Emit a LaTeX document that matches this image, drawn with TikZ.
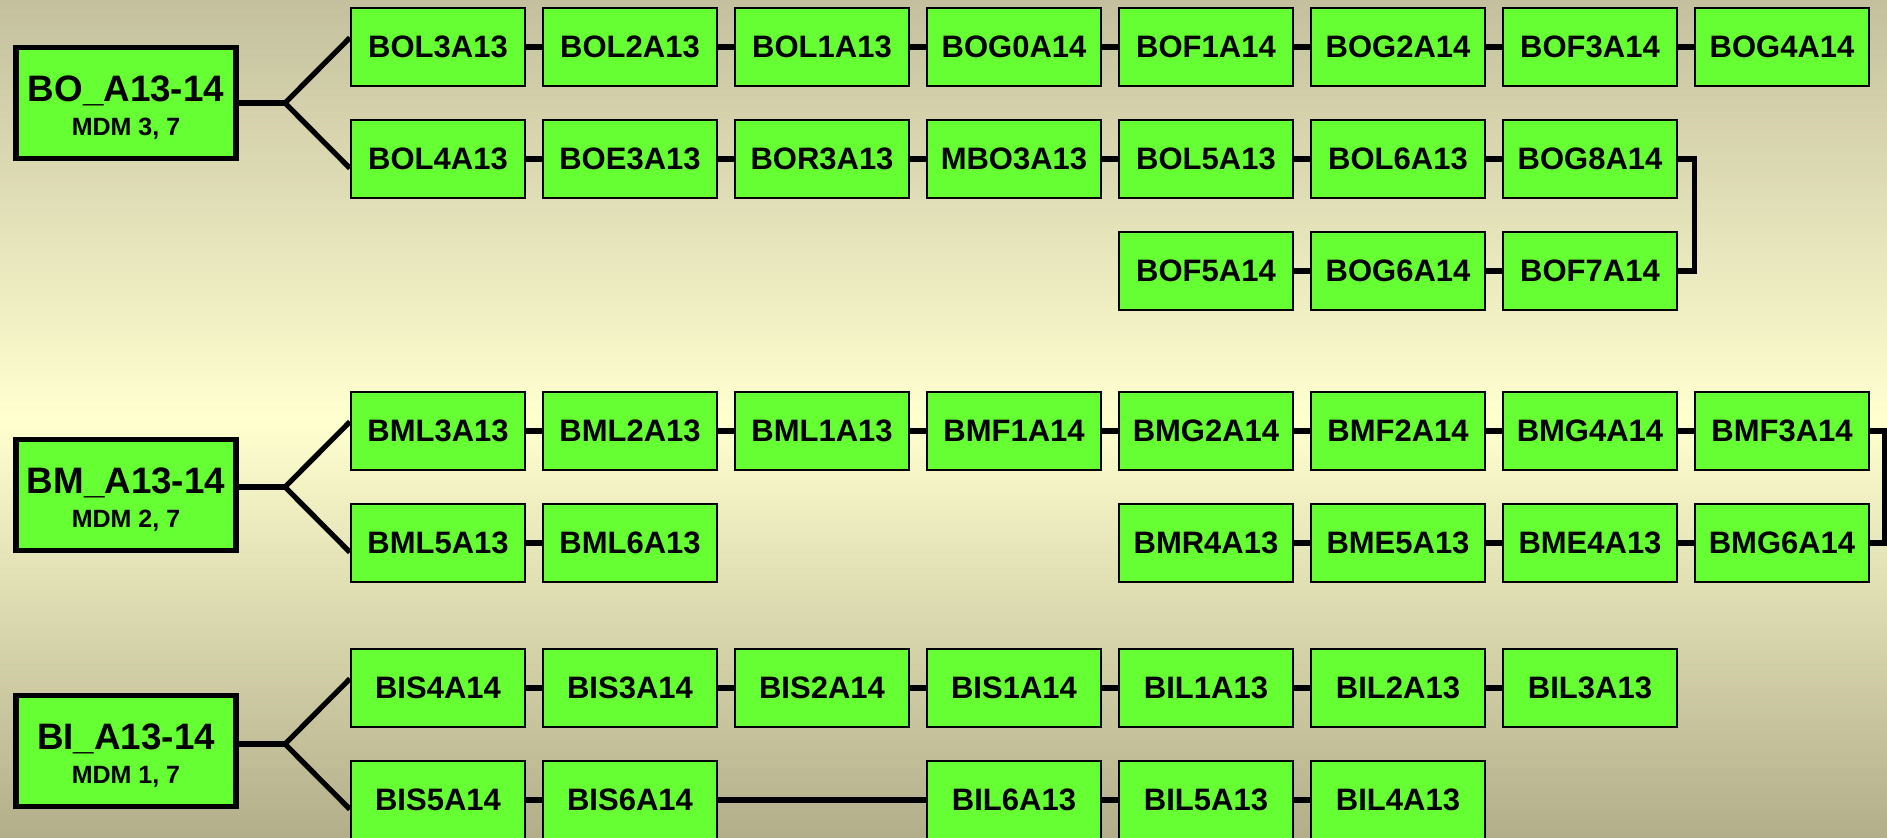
\documentclass[tikz,border=0pt]{standalone}
\usepackage{fontspec}
\setmainfont{Liberation Sans}
\usetikzlibrary{positioning}

\definecolor{boxgreen}{RGB}{102,255,51}
\definecolor{bgtop}{RGB}{196,192,158}
\definecolor{bgmid}{RGB}{255,255,208}
\definecolor{bgbot}{RGB}{178,174,138}

\newcommand{\grptext}[2]{\fontsize{18.4}{20}\selectfont\rule{0pt}{17.5pt}#1\\[5pt]\fontsize{12.5}{17}\selectfont #2}

\tikzset{
  stn/.style={draw, fill=boxgreen, line width=1.1pt, minimum width=87pt,
    minimum height=39pt, inner sep=0pt, font=\bfseries\fontsize{15.5}{18}\selectfont},
  grp/.style={draw, fill=boxgreen, line width=2.8pt, minimum width=110pt,
    minimum height=55.5pt, inner sep=0pt, align=center, font=\bfseries},
  link/.style={line width=2.6pt},
}

\begin{document}
\begin{tikzpicture}[x=0.5pt, y=-0.5pt, node distance=96pt]
   \shade[top color=bgtop, bottom color=bgbot, middle color=bgmid] (0,0) rectangle (1887,837);
   \useasboundingbox (0,0) rectangle (1887,837);

   % BO group
   \node[grp] (BO) at (126,103) {\grptext{BO\_A13-14}{MDM 3, 7}};
   \coordinate (bo) at (285,103);

   \node[stn] (BOL3A13) at (438,47) {BOL3A13};
   \node[stn] (BOL2A13) [right of=BOL3A13] {BOL2A13};
   \node[stn] (BOL1A13) [right of=BOL2A13] {BOL1A13};
   \node[stn] (BOG0A14) [right of=BOL1A13] {BOG0A14};
   \node[stn] (BOF1A14) [right of=BOG0A14] {BOF1A14};
   \node[stn] (BOG2A14) [right of=BOF1A14] {BOG2A14};
   \node[stn] (BOF3A14) [right of=BOG2A14] {BOF3A14};
   \node[stn] (BOG4A14) [right of=BOF3A14] {BOG4A14};

   \node[stn] (BOL4A13) at (438,159) {BOL4A13};
   \node[stn] (BOE3A13) [right of=BOL4A13] {BOE3A13};
   \node[stn] (BOR3A13) [right of=BOE3A13] {BOR3A13};
   \node[stn] (MBO3A13) [right of=BOR3A13] {MBO3A13};
   \node[stn] (BOL5A13) [right of=MBO3A13] {BOL5A13};
   \node[stn] (BOL6A13) [right of=BOL5A13] {BOL6A13};
   \node[stn] (BOG8A14) [right of=BOL6A13] {BOG8A14};

   \node[stn] (BOF5A14) at (1206,271) {BOF5A14};
   \node[stn] (BOG6A14) [right of=BOF5A14] {BOG6A14};
   \node[stn] (BOF7A14) [right of=BOG6A14] {BOF7A14};

   \draw[link] (BO.east) -- (bo);
   \draw[link] (BOL3A13.174) -- (bo) -- (BOL4A13.186);
   \path[link]
     (BOL3A13) edge (BOL2A13)
     (BOL2A13) edge (BOL1A13)
     (BOL1A13) edge (BOG0A14)
     (BOG0A14) edge (BOF1A14)
     (BOF1A14) edge (BOG2A14)
     (BOG2A14) edge (BOF3A14)
     (BOF3A14) edge (BOG4A14)
     (BOL4A13) edge (BOE3A13)
     (BOE3A13) edge (BOR3A13)
     (BOR3A13) edge (MBO3A13)
     (MBO3A13) edge (BOL5A13)
     (BOL5A13) edge (BOL6A13)
     (BOL6A13) edge (BOG8A14)
     (BOF5A14) edge (BOG6A14)
     (BOG6A14) edge (BOF7A14);
   \draw[link] (BOG8A14.east) -- ++(16,0) |- (BOF7A14.east);

   % BM group
   \node[grp] (BM) at (126,495) {\grptext{BM\_A13-14}{MDM 2, 7}};
   \coordinate (bm) at (285,487);

   \node[stn] (BML3A13) at (438,431) {BML3A13};
   \node[stn] (BML2A13) [right of=BML3A13] {BML2A13};
   \node[stn] (BML1A13) [right of=BML2A13] {BML1A13};
   \node[stn] (BMF1A14) [right of=BML1A13] {BMF1A14};
   \node[stn] (BMG2A14) [right of=BMF1A14] {BMG2A14};
   \node[stn] (BMF2A14) [right of=BMG2A14] {BMF2A14};
   \node[stn] (BMG4A14) [right of=BMF2A14] {BMG4A14};
   \node[stn] (BMF3A14) [right of=BMG4A14] {BMF3A14};

   \node[stn] (BML5A13) at (438,543) {BML5A13};
   \node[stn] (BML6A13) [right of=BML5A13] {BML6A13};
   \node[stn] (BMR4A13) [node distance=288pt, right of=BML6A13] {BMR4A13};
   \node[stn] (BME5A13) [right of=BMR4A13] {BME5A13};
   \node[stn] (BME4A13) [right of=BME5A13] {BME4A13};
   \node[stn] (BMG6A14) [right of=BME4A13] {BMG6A14};

   \draw[link] (BM.east |- bm) -- (bm);
   \draw[link] (BML3A13.174) -- (bm) -- (BML5A13.186);
   \path[link]
     (BML3A13) edge (BML2A13)
     (BML2A13) edge (BML1A13)
     (BML1A13) edge (BMF1A14)
     (BMF1A14) edge (BMG2A14)
     (BMG2A14) edge (BMF2A14)
     (BMF2A14) edge (BMG4A14)
     (BMG4A14) edge (BMF3A14)
     (BML5A13) edge (BML6A13)
     (BMR4A13) edge (BME5A13)
     (BME5A13) edge (BME4A13)
     (BME4A13) edge (BMG6A14);
   \draw[link] (BMF3A14.east) -- ++(14,0) |- (BMG6A14.east);

   % BI group
   \node[grp] (BI) at (126,751) {\grptext{BI\_A13-14}{MDM 1, 7}};
   \coordinate (bi) at (285,744);

   \node[stn] (BIS4A14) at (438,688) {BIS4A14};
   \node[stn] (BIS3A14) [right of=BIS4A14] {BIS3A14};
   \node[stn] (BIS2A14) [right of=BIS3A14] {BIS2A14};
   \node[stn] (BIS1A14) [right of=BIS2A14] {BIS1A14};
   \node[stn] (BIL1A13) [right of=BIS1A14] {BIL1A13};
   \node[stn] (BIL2A13) [right of=BIL1A13] {BIL2A13};
   \node[stn] (BIL3A13) [right of=BIL2A13] {BIL3A13};

   \node[stn] (BIS5A14) at (438,800) {BIS5A14};
   \node[stn] (BIS6A14) [right of=BIS5A14] {BIS6A14};
   \node[stn] (BIL6A13) [node distance=192pt, right of=BIS6A14] {BIL6A13};
   \node[stn] (BIL5A13) [right of=BIL6A13] {BIL5A13};
   \node[stn] (BIL4A13) [right of=BIL5A13] {BIL4A13};

   \draw[link] (BI.east |- bi) -- (bi);
   \draw[link] (BIS4A14.174) -- (bi) -- (BIS5A14.186);
   \path[link]
     (BIS4A14) edge (BIS3A14)
     (BIS3A14) edge (BIS2A14)
     (BIS2A14) edge (BIS1A14)
     (BIS1A14) edge (BIL1A13)
     (BIL1A13) edge (BIL2A13)
     (BIL2A13) edge (BIL3A13)
     (BIS5A14) edge (BIS6A14)
     (BIS6A14) edge (BIL6A13)
     (BIL6A13) edge (BIL5A13)
     (BIL5A13) edge (BIL4A13);
  \end{tikzpicture}
\end{document}
